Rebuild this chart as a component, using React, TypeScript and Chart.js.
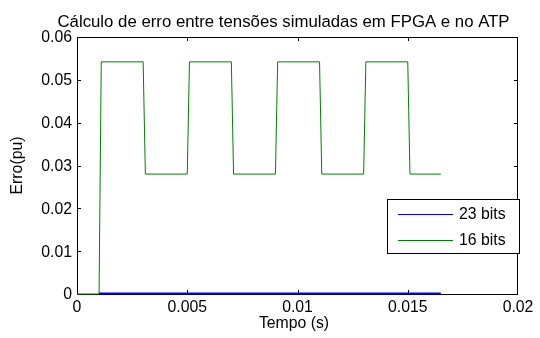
import { useEffect, useRef } from "react";
import { Chart, registerables } from "chart.js";

Chart.register(...registerables);

const titleText = "Cálculo de erro entre tensões simuladas em FPGA e no ATP";
const xLabel = "Tempo (s)";
const yLabel = "Erro(pu)";

const xTicks = [0, 0.005, 0.01, 0.015, 0.02];
const xTickLabels = ["0", "0.005", "0.01", "0.015", "0.02"];
const yTicks = [0, 0.01, 0.02, 0.03, 0.04, 0.05, 0.06];
const yTickLabels = ["0", "0.01", "0.02", "0.03", "0.04", "0.05", "0.06"];

const seriesNames = ["23 bits", "16 bits"];
const seriesColors = ["#0000ff", "#008000"];

const time23 = [0.001, 0.005, 0.01, 0.015, 0.0165];
const err23 = [0.0001, 0.0001, 0.0001, 0.0001, 0.0001];

const time16 = [
  0, 0.001, 0.0011, 0.003, 0.0031, 0.005, 0.0051, 0.007, 0.0071, 0.009,
  0.0091, 0.011, 0.0111, 0.013, 0.0131, 0.015, 0.0151, 0.0165,
];
const err16 = [
  0, 0, 0.0542, 0.0542, 0.028, 0.028, 0.0542, 0.0542, 0.028, 0.028,
  0.0542, 0.0542, 0.028, 0.028, 0.0542, 0.0542, 0.028, 0.028,
];

const FONT = '"Liberation Sans", Arial, Helvetica, sans-serif';

const decorPlugin = {
  id: "matlabDecor",
  beforeDatasetsDraw(chart: any) {
    const ctx = chart.ctx as CanvasRenderingContext2D;
    const { left, right, top, bottom } = chart.chartArea;
    const xs = chart.scales.x;
    const ys = chart.scales.y;
    ctx.save();
    ctx.strokeStyle = "#000";
    ctx.lineWidth = 1;
    ctx.strokeRect(left + 0.5, top + 0.5, right - left - 1, bottom - top);
    const tl = 4;
    ctx.beginPath();
    xTicks.forEach((v) => {
      const px = Math.round(xs.getPixelForValue(v)) + 0.5;
      if (px <= left + 1 || px >= right - 1) return;
      ctx.moveTo(px, bottom);
      ctx.lineTo(px, bottom - tl);
      ctx.moveTo(px, top);
      ctx.lineTo(px, top + tl);
    });
    yTicks.forEach((v) => {
      const py = Math.round(ys.getPixelForValue(v)) + 0.5;
      if (py <= top + 1 || py >= bottom - 1) return;
      ctx.moveTo(left, py);
      ctx.lineTo(left + tl, py);
      ctx.moveTo(right, py);
      ctx.lineTo(right - tl, py);
    });
    ctx.stroke();
    ctx.restore();
  },
  afterDraw(chart: any) {
    const ctx = chart.ctx as CanvasRenderingContext2D;
    const { left, top, bottom } = chart.chartArea;
    const xs = chart.scales.x;
    const ys = chart.scales.y;
    ctx.save();
    ctx.fillStyle = "#000";
    // tick labels
    ctx.font = `15.8px ${FONT}`;
    ctx.textAlign = "center";
    ctx.textBaseline = "middle";
    xTicks.forEach((v, i) => {
      ctx.fillText(xTickLabels[i], xs.getPixelForValue(v), bottom + 14);
    });
    ctx.textAlign = "right";
    yTicks.forEach((v, i) => {
      ctx.fillText(yTickLabels[i], left - 5, ys.getPixelForValue(v) + 1);
    });
    // axis titles
    ctx.textAlign = "center";
    ctx.fillText(xLabel, 294, bottom + 30);
    ctx.save();
    ctx.translate(18, (top + bottom) / 2);
    ctx.rotate(-Math.PI / 2);
    ctx.fillText(yLabel, 0, 0);
    ctx.restore();
    // title
    ctx.font = `16.8px ${FONT}`;
    ctx.textAlign = "center";
    ctx.textBaseline = "alphabetic";
    ctx.fillText(titleText, 283.5, 27);
    // legend
    const lx = 387.5, ly = 199.5, lw = 132, lh = 54;
    ctx.fillStyle = "#fff";
    ctx.fillRect(lx, ly, lw, lh);
    ctx.strokeStyle = "#000";
    ctx.lineWidth = 1;
    ctx.strokeRect(lx, ly, lw, lh);
    const rows = [214.5, 240.5];
    ctx.font = `15.8px ${FONT}`;
    ctx.textAlign = "left";
    ctx.textBaseline = "middle";
    seriesNames.forEach((name, i) => {
      ctx.strokeStyle = seriesColors[i];
      ctx.beginPath();
      ctx.moveTo(398, rows[i]);
      ctx.lineTo(453, rows[i]);
      ctx.stroke();
      ctx.fillStyle = "#000";
      ctx.fillText(name, 459, rows[i]);
    });
    ctx.restore();
  },
};

export default function App() {
  const canvasRef = useRef<HTMLCanvasElement | null>(null);

  useEffect(() => {
    const canvas = canvasRef.current;
    if (!canvas) return;
    const chart = new Chart(canvas, {
      type: "line",
      data: {
        datasets: [
          {
            label: seriesNames[0],
            data: time23.map((t, i) => ({ x: t, y: err23[i] })),
            borderColor: seriesColors[0],
            borderWidth: 2,
            pointRadius: 0,
            tension: 0,
            fill: false,
            clip: false as any,
          },
          {
            label: seriesNames[1],
            data: time16.map((t, i) => ({ x: t, y: err16[i] })),
            borderColor: seriesColors[1],
            borderWidth: 1,
            pointRadius: 0,
            tension: 0,
            fill: false,
            clip: false as any,
          },
        ],
      },
      options: {
        animation: false,
        responsive: false,
        devicePixelRatio: 1,
        layout: { padding: { left: 77, right: 22, top: 37, bottom: 44 } },
        plugins: {
          legend: { display: false },
          title: { display: false },
          tooltip: { enabled: false },
        },
        scales: {
          x: { type: "linear", min: 0, max: 0.02, display: false },
          y: { type: "linear", min: 0, max: 0.06, display: false },
        },
      },
      plugins: [decorPlugin],
    });
    return () => chart.destroy();
  }, []);

  return (
    <div style={{ position: "fixed", left: 0, top: 0, width: 540, height: 338, background: "#fff" }}>
      <canvas ref={canvasRef} width={540} height={338} style={{ width: 540, height: 338 }} />
    </div>
  );
}
